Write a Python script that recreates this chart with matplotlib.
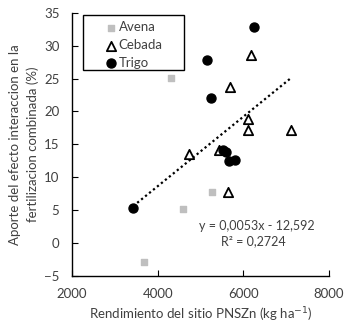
import matplotlib
matplotlib.use("Agg")
import matplotlib.pyplot as plt
from matplotlib.patches import Rectangle
import numpy as np

# data
avena_x = [4320, 3670, 4580, 5260]
avena_y = [25.1, -3.0, 5.2, 7.8]

cebada_x = [6190, 5680, 6100, 6120, 7110, 4720, 5440, 5630]
cebada_y = [28.6, 23.7, 18.8, 17.2, 17.2, 13.5, 14.2, 7.7]

trigo_x = [6260, 5160, 5240, 5530, 5590, 5660, 5800, 3430]
trigo_y = [32.9, 27.8, 22.1, 14.2, 13.9, 12.4, 12.6, 5.3]

slope = 0.0053
intercept = -12.592
r2_text = "R\u00b2 = 0,2724"
eq_text = "y = 0,0053x - 12,592"

plt.rcParams['font.family'] = ['Lato', 'DejaVu Sans']
txt = '#404040'

fig = plt.figure(figsize=(3.46, 3.34), dpi=100)
ax = fig.add_axes([0.208, 0.175, 0.743, 0.786])

ax.scatter(avena_x, avena_y, marker='s', s=25, color='#bfbfbf', label='Avena', zorder=3)
ax.scatter(cebada_x, cebada_y, marker='^', s=45, facecolor='white', edgecolor='black',
           linewidth=1.3, label='Cebada', zorder=3)
ax.scatter(trigo_x, trigo_y, marker='o', s=42, color='black', label='Trigo', zorder=3)

# trend line over the full x range of the data
all_x = avena_x + cebada_x + trigo_x
xl = np.array([min(all_x), max(all_x)])
ax.plot(xl, slope * xl + intercept, color='black', linestyle=(0, (1, 1.3)), linewidth=1.6, zorder=2)

ax.set_xlim(2000, 8000)
ax.set_ylim(-5, 35)
ax.set_xticks([2000, 4000, 6000, 8000])
ax.set_yticks(range(-5, 36, 5))
ax.tick_params(axis='x', direction='in', length=4, labelsize=9.5, pad=9, labelcolor=txt)
ax.tick_params(axis='y', direction='in', length=4, labelsize=9.5, pad=9, labelcolor=txt)
ax.spines['top'].set_visible(False)
ax.spines['right'].set_visible(False)
for s in ['left', 'bottom']:
    ax.spines[s].set_linewidth(1.0)

ax.set_xlabel('Rendimiento del sitio PNSZn (kg ha$^{-1}$)', fontsize=9.5, color=txt, labelpad=4)
ax.set_ylabel('Aporte del efecto interaccion en la\nfertilizacion combinada (%)', fontsize=9.5,
              color=txt, linespacing=1.45)
ax.yaxis.set_label_coords(-0.13, 0.5)

ax.text(0.72, 0.19, eq_text, transform=ax.transAxes, ha='center', va='center', fontsize=9, color=txt)
ax.text(0.705, 0.13, r2_text, transform=ax.transAxes, ha='center', va='center', fontsize=9, color=txt)

# legend box drawn separately so the entries can sit off-centre like the original
ax.add_patch(Rectangle((0.041, 0.783), 0.393, 0.21, transform=ax.transAxes, fill=True,
                       facecolor='white', edgecolor='black', linewidth=1.0, zorder=4, clip_on=False))
leg = ax.legend(loc='upper left', bbox_to_anchor=(0.133, 0.968), fontsize=9.5, frameon=False,
                handletextpad=0.15, borderpad=0.0, labelspacing=0.42, handlelength=0.8,
                borderaxespad=0.0)
leg.set_zorder(5)
for t in leg.get_texts():
    t.set_color(txt)

fig.savefig('out.png', dpi=100)
